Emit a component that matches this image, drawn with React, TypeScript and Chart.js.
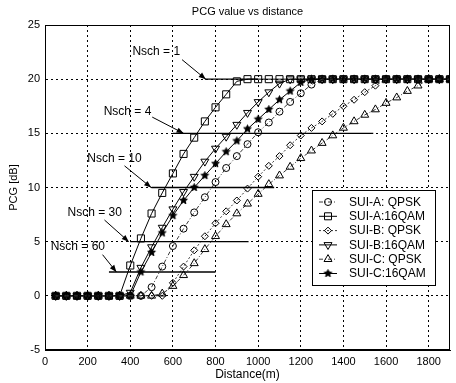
import React, { useEffect, useRef } from "react";
import { Chart, registerables } from "chart.js";

Chart.register(...registerables);

// ---------------- data ----------------
const distances = [50, 100, 150, 200, 250, 300, 350, 400, 450, 500, 550, 600, 650, 700, 750, 800, 850, 900, 950, 1000,
  1050, 1100, 1150, 1200, 1250, 1300, 1350, 1400, 1450, 1500, 1550, 1600, 1650, 1700, 1750, 1800, 1850, 1900];

const suiAQpsk = [0, 0, 0, 0, 0, 0, 0, 0, 0, 0.8, 2.7, 4.6, 6.2, 7.7, 9.1, 10.5, 11.8, 12.9, 14.0, 15.1,
  16.0, 17.0, 17.9, 18.7, 19.5, 20, 20, 20, 20, 20, 20, 20, 20, 20, 20, 20, 20, 20];
const suiA16qam = [0, 0, 0, 0, 0, 0, 0, 2.8, 5.3, 7.6, 9.5, 11.3, 13.1, 14.6, 16.1, 17.4, 18.6, 19.8, 20, 20,
  20, 20, 20, 20, 20, 20, 20, 20, 20, 20, 20, 20, 20, 20, 20, 20, 20, 20];
const suiBQpsk = [0, 0, 0, 0, 0, 0, 0, 0, 0, 0, 0, 1.2, 2.7, 4.2, 5.5, 6.7, 7.8, 8.8, 9.9, 11.0,
  12.0, 12.9, 13.9, 14.8, 15.5, 16.1, 16.8, 17.5, 18.1, 18.8, 19.4, 20, 20, 20, 20, 20, 20, 20];
const suiB16qam = [0, 0, 0, 0, 0, 0, 0, 0.3, 2.6, 4.5, 6.3, 8.0, 9.6, 11.0, 12.4, 13.6, 14.7, 15.8, 16.9, 17.9,
  18.8, 19.6, 20, 20, 20, 20, 20, 20, 20, 20, 20, 20, 20, 20, 20, 20, 20, 20];
const suiCQpsk = [0, 0, 0, 0, 0, 0, 0, 0, 0, 0, 0.2, 0.9, 1.9, 3.0, 4.3, 5.5, 6.6, 7.6, 8.5, 9.4,
  10.3, 11.1, 11.9, 12.7, 13.4, 14.1, 14.8, 15.5, 16.1, 16.7, 17.2, 17.8, 18.3, 18.9, 19.4, 20, 20, 20];
const suiC16qam = [0, 0, 0, 0, 0, 0, 0, 0, 2.2, 4.0, 5.8, 7.4, 8.8, 10.0, 11.1, 12.2, 13.3, 14.3, 15.4, 16.3,
  17.2, 18.1, 18.9, 19.7, 20, 20, 20, 20, 20, 20, 20, 20, 20, 20, 20, 20, 20, 20];

const seriesNames = ["SUI-A: QPSK", "SUI-A:16QAM", "SUI-B: QPSK", "SUI-B:16QAM", "SUI-C: QPSK", "SUI-C:16QAM"];

const xTicks = [0, 200, 400, 600, 800, 1000, 1200, 1400, 1600, 1800];
const yTicks = [-5, 0, 5, 10, 15, 20, 25];

// Nsch reference levels (PCG in dB) and their distance spans
const nschNames = ["Nsch = 1", "Nsch = 4", "Nsch = 10", "Nsch = 30", "Nsch = 60"];
const nschLevels = [20, 15, 10, 5, 2.2];
const nschStart = [750, 600, 500, 400, 300];
const nschEnd = [1000, 1540, 1075, 955, 800];

// annotation anchors in data coordinates
const annotLabelAt = [[522, 22.5], [387, 17.0], [326, 12.7], [233, 7.7], [154, 4.5]];
const annotTailAt = [[643, 21.8], [503, 16.5], [373, 12.0], [279, 7.0], [270, 3.8]];
const annotTipAt = [[754, 20], [650, 15], [498, 10], [393, 5], [335, 2.2]];

const FONT = "'Liberation Sans', Arial, Helvetica, sans-serif";

function makeStar(r: number) {
  const c = document.createElement("canvas");
  const s = Math.ceil(r * 2 + 3);
  c.width = s;
  c.height = s;
  const g = c.getContext("2d")!;
  g.translate(s / 2, s / 2);
  g.beginPath();
  for (let i = 0; i < 10; i++) {
    const rr = i % 2 === 0 ? r : r * 0.45;
    const a = -Math.PI / 2 + (i * Math.PI) / 5;
    g.lineTo(rr * Math.cos(a), rr * Math.sin(a));
  }
  g.closePath();
  g.fillStyle = "#000";
  g.fill();
  g.strokeStyle = "#000";
  g.lineWidth = 1;
  g.stroke();
  return c;
}

type Marker = "circle" | "rect" | "rectRot" | "triDown" | "triUp" | "star";

function drawMarker(ctx: CanvasRenderingContext2D, kind: Marker, x: number, y: number, star: HTMLCanvasElement) {
  ctx.save();
  ctx.strokeStyle = "#000";
  ctx.lineWidth = 1;
  ctx.setLineDash([]);
  ctx.beginPath();
  if (kind === "circle") {
    ctx.arc(x, y, 3.5, 0, Math.PI * 2);
  } else if (kind === "rect") {
    ctx.rect(x - 3.5, y - 3.5, 7, 7);
  } else if (kind === "rectRot") {
    ctx.moveTo(x, y - 3.5); ctx.lineTo(x + 3.5, y); ctx.lineTo(x, y + 3.5); ctx.lineTo(x - 3.5, y); ctx.closePath();
  } else if (kind === "triDown" || kind === "triUp") {
    const r = 4.6;
    const s = kind === "triUp" ? -1 : 1;
    ctx.moveTo(x, y + s * r);
    ctx.lineTo(x + r * 0.866, y - s * r * 0.5);
    ctx.lineTo(x - r * 0.866, y - s * r * 0.5);
    ctx.closePath();
  } else if (kind === "star") {
    ctx.drawImage(star, x - star.width / 2, y - star.height / 2);
    ctx.restore();
    return;
  }
  ctx.stroke();
  ctx.restore();
}

export default function App() {
  const ref = useRef<HTMLCanvasElement | null>(null);

  useEffect(() => {
    document.body.style.margin = "0";
    const canvas = ref.current!;
    const star = makeStar(4);

    const styles: { marker: Marker; pointStyle: any; radius: number; rotation: number; dash: number[]; color: string }[] = [
      { marker: "circle", pointStyle: "circle", radius: 3.5, rotation: 0, dash: [4, 2, 1, 2], color: "#3a3a3a" },
      { marker: "rect", pointStyle: "rect", radius: 5, rotation: 0, dash: [], color: "#000" },
      { marker: "rectRot", pointStyle: "rectRot", radius: 3.5, rotation: 0, dash: [2, 2], color: "#3a3a3a" },
      { marker: "triDown", pointStyle: "triangle", radius: 4.6, rotation: 180, dash: [], color: "#000" },
      { marker: "triUp", pointStyle: "triangle", radius: 4.6, rotation: 0, dash: [4, 2, 1, 2], color: "#3a3a3a" },
      { marker: "star", pointStyle: star, radius: 4, rotation: 0, dash: [], color: "#000" },
    ];
    const seriesValues = [suiAQpsk, suiA16qam, suiBQpsk, suiB16qam, suiCQpsk, suiC16qam];

    const seriesSets = seriesValues.map((vals, k) => ({
      label: seriesNames[k],
      data: distances.map((d, i) => ({ x: d, y: vals[i] })),
      borderColor: styles[k].color,
      borderWidth: 1,
      borderDash: styles[k].dash,
      backgroundColor: "rgba(0,0,0,0)",
      pointStyle: styles[k].pointStyle,
      pointRadius: styles[k].radius,
      pointRotation: styles[k].rotation,
      pointBorderColor: "#000",
      pointBackgroundColor: "rgba(0,0,0,0)",
      pointBorderWidth: 1,
      tension: 0,
      fill: false,
    }));

    const nschSets = nschLevels.map((lvl, k) => ({
      label: nschNames[k],
      data: [{ x: nschStart[k], y: lvl }, { x: nschEnd[k], y: lvl }],
      borderColor: "#000",
      borderWidth: 1.4,
      pointRadius: 0,
      fill: false,
    }));

    const framePlugin = {
      id: "frameAndNotes",
      afterDatasetsDraw(chart: any) {
        const { ctx, chartArea: a, scales } = chart;
        const xs = scales.x;
        const ys = scales.y;
        ctx.save();
        // frame
        ctx.strokeStyle = "#000";
        ctx.lineWidth = 1;
        ctx.setLineDash([]);
        ctx.strokeRect(a.left + 0.5, a.top + 0.5, a.right - a.left - 1, a.bottom - a.top - 1);

        // title
        ctx.fillStyle = "#000";
        ctx.font = `11px ${FONT}`;
        ctx.textAlign = "center";
        ctx.textBaseline = "middle";
        ctx.fillText("PCG value vs distance", (a.left + a.right) / 2, 12);

        // Nsch annotations
        ctx.font = `12px ${FONT}`;
        for (let k = 0; k < nschNames.length; k++) {
          const lx = xs.getPixelForValue(annotLabelAt[k][0]);
          const ly = ys.getPixelForValue(annotLabelAt[k][1]);
          ctx.fillText(nschNames[k], lx, ly);
          const tx = xs.getPixelForValue(annotTailAt[k][0]);
          const ty = ys.getPixelForValue(annotTailAt[k][1]);
          const hx = xs.getPixelForValue(annotTipAt[k][0]);
          const hy = ys.getPixelForValue(annotTipAt[k][1]);
          ctx.beginPath();
          ctx.moveTo(tx, ty);
          ctx.lineTo(hx, hy);
          ctx.stroke();
          const ang = Math.atan2(hy - ty, hx - tx);
          const L = 7, W = 2.8;
          ctx.beginPath();
          ctx.moveTo(hx, hy);
          ctx.lineTo(hx - L * Math.cos(ang) + W * Math.sin(ang), hy - L * Math.sin(ang) - W * Math.cos(ang));
          ctx.lineTo(hx - L * Math.cos(ang) - W * Math.sin(ang), hy - L * Math.sin(ang) + W * Math.cos(ang));
          ctx.closePath();
          ctx.fill();
        }

        // legend
        const bx = a.left + 267, by = a.top + 165, bw = 123, bh = 95;
        ctx.fillStyle = "#fff";
        ctx.fillRect(bx, by, bw, bh);
        ctx.strokeStyle = "#000";
        ctx.strokeRect(bx + 0.5, by + 0.5, bw, bh);
        ctx.textAlign = "left";
        ctx.font = `12px ${FONT}`;
        for (let k = 0; k < seriesNames.length; k++) {
          const ry = by + 12 + k * 14.3;
          ctx.save();
          ctx.strokeStyle = styles[k].color;
          ctx.setLineDash(styles[k].dash);
          ctx.beginPath();
          ctx.moveTo(bx + 7, ry);
          ctx.lineTo(bx + 25, ry);
          ctx.stroke();
          ctx.restore();
          drawMarker(ctx, styles[k].marker, bx + 16, ry, star);
          ctx.fillStyle = "#000";
          ctx.fillText(seriesNames[k], bx + 37, ry + 0.5);
        }
        ctx.restore();
      },
    };

    const chart = new Chart(canvas, {
      type: "line",
      data: { datasets: [...nschSets, ...seriesSets] as any },
      options: {
        animation: false,
        responsive: false,
        devicePixelRatio: 1,
        layout: { padding: { top: 25, right: 3, left: 0, bottom: 0 } },
        plugins: { legend: { display: false }, tooltip: { enabled: false }, title: { display: false } },
        scales: {
          x: {
            type: "linear",
            min: 0,
            max: 1900,
            afterFit(scale: any) { scale.height = 33; },
            afterBuildTicks(scale: any) { scale.ticks = xTicks.map((v) => ({ value: v })); },
            grid: { color: "#000", lineWidth: 1, drawTicks: false },
            border: { display: true, color: "#000", width: 1, dash: [2, 3] },
            ticks: {
              color: "#000", padding: 5, font: { family: FONT, size: 11 }, maxRotation: 0, autoSkip: false,
              callback: (v: any) => String(v),
            },
            title: { display: true, text: "Distance(m)", color: "#000", font: { family: FONT, size: 12 }, padding: { top: 0, bottom: 1 } },
          },
          y: {
            type: "linear",
            min: -5,
            max: 25,
            afterFit(scale: any) { scale.width = 45; },
            afterBuildTicks(scale: any) { scale.ticks = yTicks.map((v) => ({ value: v })); },
            grid: { color: "#000", lineWidth: 1, drawTicks: false },
            border: { display: true, color: "#000", width: 1, dash: [2, 3] },
            ticks: { color: "#000", padding: 5, font: { family: FONT, size: 11 }, autoSkip: false, callback: (v: any) => String(v) },
            title: { display: true, text: "PCG [dB]", color: "#000", font: { family: FONT, size: 11 }, padding: { top: 7, bottom: 0 } },
          },
        },
      },
      plugins: [framePlugin],
    });
    return () => chart.destroy();
  }, []);

  return (
    <div style={{ width: 456, height: 383 }}>
      <canvas ref={ref} width={456} height={383} />
    </div>
  );
}
